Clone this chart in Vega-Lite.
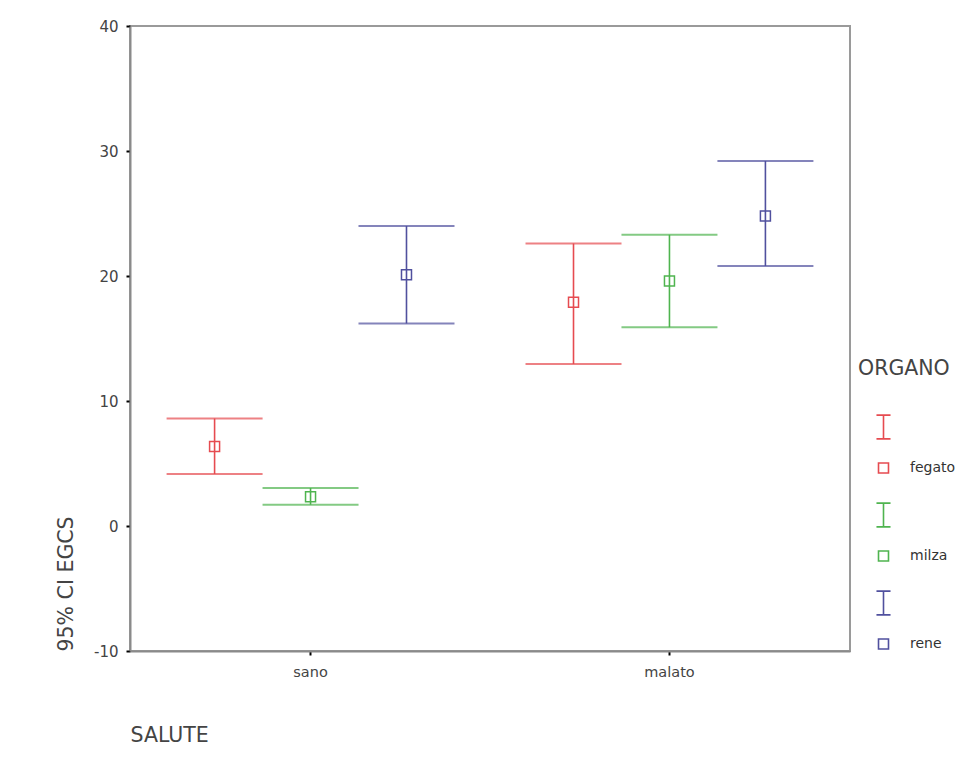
{
  "$schema": "https://vega.github.io/schema/vega-lite/v6.json",
  "width": 720,
  "height": 625,
  "padding": {"left": 56, "top": 19, "right": 5, "bottom": 5},
  "background": "white",
  "data": {
    "values": [
      {"salute": "sano", "organo": "fegato", "mean": 6.37, "lo": 4.16, "hi": 8.6},
      {"salute": "sano", "organo": "milza", "mean": 2.35, "lo": 1.7, "hi": 3.04},
      {"salute": "sano", "organo": "rene", "mean": 20.1, "lo": 16.2, "hi": 24.0},
      {"salute": "malato", "organo": "fegato", "mean": 17.9, "lo": 12.96, "hi": 22.6},
      {"salute": "malato", "organo": "milza", "mean": 19.6, "lo": 15.9, "hi": 23.3},
      {"salute": "malato", "organo": "rene", "mean": 24.8, "lo": 20.8, "hi": 29.2}
    ]
  },
  "encoding": {
    "x": {
      "field": "salute", "type": "nominal", "sort": ["sano", "malato"],
      "scale": {"paddingInner": 0.198, "paddingOuter": 0.102},
      "title": "SALUTE"
    },
    "xOffset": {
      "field": "organo", "type": "nominal", "sort": ["fegato", "milza", "rene"],
      "scale": {"paddingInner": 0, "paddingOuter": 0}
    },
    "color": {
      "field": "organo", "type": "nominal",
      "scale": {"domain": ["fegato", "milza", "rene"], "range": ["#e64b50", "#4fb44f", "#50509e"]},
      "title": "ORGANO",
      "legend": {
        "orient": "none", "legendX": 728, "legendY": 333,
        "symbolType": "M-0.206,-0.206H0.206V0.206H-0.206ZM-0.29,-2.18H0.29M0,-2.18V-1.2M-0.29,-1.2H0.29",
        "symbolSize": 2350, "symbolStrokeWidth": 1.6, "symbolOpacity": 1,
        "titleFontSize": 20.5, "titleFontWeight": "normal", "titleColor": "#444",
        "labelFontSize": 14, "labelColor": "#333", "rowPadding": 23, "titlePadding": 63, "labelOffset": 1,
        "encode": {
          "symbols": {
            "update": {
              "fillOpacity": {"value": 0},
              "stroke": {"scale": "color", "field": "value"},
              "strokeWidth": {"value": 1.6},
              "strokeOpacity": {"value": 1},
              "opacity": {"value": 1}
            }
          }
        }
      }
    }
  },
  "layer": [
    {
      "mark": {"type": "rule", "strokeWidth": 1.6},
      "encoding": {
        "y": {"field": "lo", "type": "quantitative", "scale": {"domain": [-10, 40], "nice": false, "zero": false}, "title": "95% CI EGCS", "axis": {"values": [-10, 0, 10, 20, 30, 40], "labelExpr": "'' + datum.value"}},
        "y2": {"field": "hi"}
      }
    },
    {
      "mark": {"type": "tick", "size": 96, "thickness": 1.8},
      "encoding": {"y": {"field": "lo", "type": "quantitative", "title": "95% CI EGCS"}}
    },
    {
      "mark": {"type": "tick", "size": 96, "thickness": 1.8},
      "encoding": {"y": {"field": "hi", "type": "quantitative", "title": "95% CI EGCS"}}
    },
    {
      "mark": {"type": "point", "shape": "square", "filled": false, "size": 100, "strokeWidth": 1.5, "opacity": 1},
      "encoding": {"y": {"field": "mean", "type": "quantitative", "title": "95% CI EGCS"}}
    }
  ],
  "config": {
    "font": "DejaVu Sans",
    "view": {"stroke": "#9a9a9a", "strokeWidth": 2},
    "axis": {
      "domainColor": "#8a8a8a", "domainWidth": 2, "tickColor": "#000", "tickWidth": 2, "tickSize": 4,
      "labelColor": "#444", "titleColor": "#444", "titleFontWeight": "normal", "grid": false
    },
    "axisY": {"labelFontSize": 15, "labelPadding": 8, "titleFontSize": 20.5, "titleAnchor": "start", "titlePadding": 17},
    "axisX": {"labelFontSize": 14.5, "labelPadding": 10, "titleFontSize": 20.5, "titleAnchor": "start", "titlePadding": 47, "labelAngle": 0}
  }
}
